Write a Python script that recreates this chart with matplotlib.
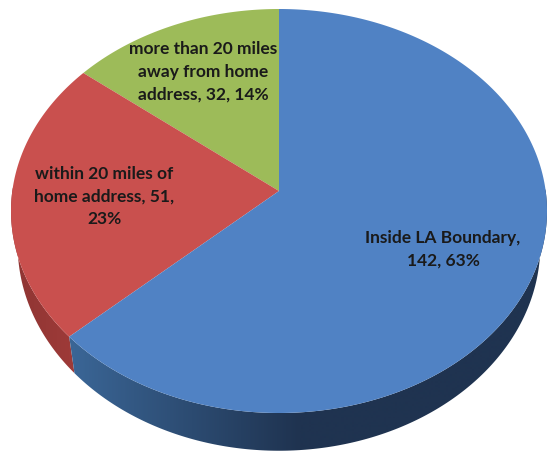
import numpy as np
import matplotlib
matplotlib.use("Agg")
import matplotlib.pyplot as plt
from matplotlib.colors import LinearSegmentedColormap
from matplotlib.patches import Polygon

labels = ["Inside LA Boundary,\n142, 63%",
          "within 20 miles of\nhome address, 51,\n23%",
          "more than 20 miles\naway from home\naddress, 32, 14%"]
values = [142, 51, 32]
colors = ["#5082C4", "#C9504E", "#9DBB59"]
side_dark = ["#1F3350", "#8E3533", "#76923C"]
side_light = ["#3A6595", "#A03B39", "#76923C"]
label_pos = [(443, 249), (104, 197), (203, 72)]

# pie geometry in pixels
cx, cy = 279, 192
up, down = 182, 222
half_w = 268
depth = 34
shrink = 0.975

tilt = (down - up) / (down + up)
a = up * (1 + tilt)
d = half_w * np.sqrt(1 - tilt ** 2)


def project(t, drop=0):
    # circle -> ellipse with the centre pushed back (perspective)
    w = 1 + tilt * np.sin(t)
    x = d * np.cos(t) / w
    y = cy - a * np.sin(t) / w + drop * depth / w
    if drop:
        x = x * shrink
    return cx + x, y


fig = plt.figure(figsize=(5.47, 4.52), dpi=100)
ax = fig.add_axes([0, 0, 1, 1])

# slices run counter clockwise from the top, green first
angles = np.cumsum([0, values[2], values[1], values[0]]) / sum(values) * 2 * np.pi + np.pi / 2
order = [2, 1, 0]

# side wall, gradient image clipped to the wall shape
xs = np.arange(0, 548)
for k, i in enumerate(order):
    t = np.linspace(angles[k], angles[k + 1], 400)
    t = t[np.sin(t) < 0.02]
    if len(t) < 2:
        continue
    x0, y0 = project(t)
    x1, y1 = project(t, 1)
    wall = Polygon(np.c_[np.r_[x0, x1[::-1]], np.r_[y0, y1[::-1]]], closed=True,
                   transform=ax.transData, fc="none", ec="none")
    ax.add_patch(wall)
    cmap = LinearSegmentedColormap.from_list("side", [side_light[i], side_dark[i]])
    if i == 1:
        grad = np.clip((80 - xs) / 70, 0, 1)
    else:
        grad = np.clip((xs - 75) / 225, 0, 1)
    im = ax.imshow(grad.reshape(1, -1), cmap=cmap, vmin=0, vmax=1, extent=(0, 547, 452, 0),
                   aspect="auto", interpolation="bilinear")
    im.set_clip_path(wall)

# top face
for k, i in enumerate(order):
    t = np.linspace(angles[k], angles[k + 1], 400)
    x, y = project(t)
    ax.fill(np.r_[cx, x], np.r_[cy, y], color=colors[i], lw=0)

for lab, pos in zip(labels, label_pos):
    ax.text(pos[0], pos[1], lab, ha="center", va="center", family="Lato", weight="bold",
            fontsize=12.5, color="#1a1a1a", linespacing=1.5)

ax.set_xlim(0, 547)
ax.set_ylim(452, 0)
ax.axis("off")

fig.savefig("out.png", dpi=100)
